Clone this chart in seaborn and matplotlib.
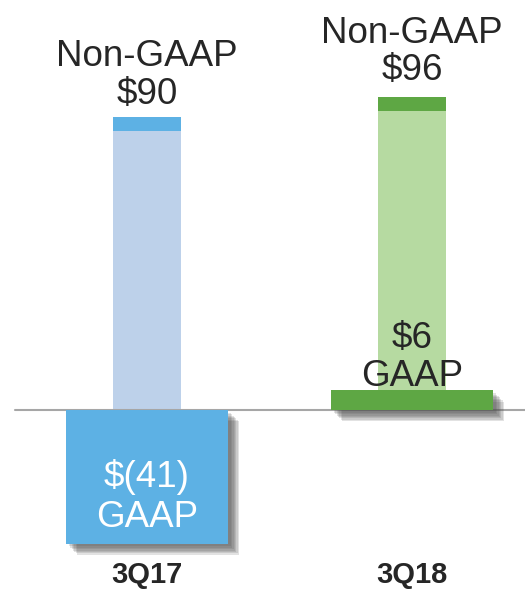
#!/usr/bin/env python3
# plot.py - GAAP vs Non-GAAP by quarter

import matplotlib
matplotlib.use('Agg')
import matplotlib.pyplot as plt
import matplotlib.patheffects as pe
import pandas as pd
import seaborn as sns

# Data =========================================================================

quarters = ['3Q17', '3Q18']
non_gaap = [90, 96]
gaap = [-41, 6]
non_gaap_labels = ['Non-GAAP\n$90', 'Non-GAAP\n$96']
gaap_labels = ['$(41)\nGAAP', '$6\nGAAP']

light_colors = ['#BDD1EA', '#B6DAA1']
dark_colors = ['#5DB1E4', '#5EA744']

# Plot =========================================================================

def main():
    sns.set_style('white')
    plt.rcParams['font.family'] = ['Liberation Sans', 'DejaVu Sans']

    df = pd.DataFrame({'Quarter': quarters, 'NonGAAP': non_gaap, 'GAAP': gaap})

    fig = plt.figure(figsize=(5.25, 5.91), dpi=100)
    ax = fig.add_axes([0, 33 / 591, 1, 558 / 591])

    # non-GAAP (light) bars
    sns.barplot(data=df, x='Quarter', y='NonGAAP', hue='Quarter',
                palette=light_colors, width=0.253, legend=False,
                saturation=1, linewidth=0, ax=ax, zorder=2)
    # dark cap at top of the non-GAAP bars
    cap = 4.3
    ax.bar(range(len(quarters)), [cap] * len(quarters),
           bottom=[v - cap for v in non_gaap], width=0.253,
           color=dark_colors, linewidth=0, zorder=3)

    # GAAP bars with soft drop shadow
    n_before = len(ax.patches)
    sns.barplot(data=df, x='Quarter', y='GAAP', hue='Quarter',
                palette=dark_colors, width=0.611, legend=False,
                saturation=1, linewidth=0, ax=ax, zorder=4)
    shadow = [pe.SimplePatchShadow(offset=(d, -d), shadow_rgbFace='0.3', alpha=0.16)
              for d in (2, 3, 4, 5, 6, 7, 8)]
    for p in ax.patches[n_before:]:
        p.set_path_effects(shadow + [pe.Normal()])

    ax.axhline(0, xmin=15 / 525, xmax=1, color='#A6A6A6', lw=1.5, zorder=3.5)

    # labels
    offsets = [9, 12]
    for i, (v, lab) in enumerate(zip(non_gaap, non_gaap_labels)):
        ax.annotate(lab, (i, v), xytext=(0, offsets[i]), textcoords='offset points',
                    ha='center', va='baseline', fontsize=26.5, color='#262626',
                    linespacing=1.1, zorder=6)
    ax.annotate(gaap_labels[0], (0, gaap[0]), xytext=(0, 12), textcoords='offset points',
                ha='center', va='baseline', fontsize=26.5, color='white',
                linespacing=1.2, zorder=6)
    ax.annotate(gaap_labels[1], (1, gaap[1]), xytext=(0, 3.5), textcoords='offset points',
                ha='center', va='baseline', fontsize=26.5, color='#262626',
                linespacing=1.1, zorder=6)

    ax.set_xlim(-147 / 265, 378 / 265)
    ax.set_ylim(-148 / 3.26, 410 / 3.26)
    ax.set_xlabel('')
    ax.set_ylabel('')
    ax.set_yticks([])
    ax.tick_params(axis='x', length=0, pad=2)
    for t in ax.get_xticklabels():
        t.set_fontfamily(['Liberation Sans Narrow', 'Liberation Sans'])
        t.set_fontweight('bold')
        t.set_fontsize(21)
        t.set_color('#262626')
    sns.despine(ax=ax, left=True, bottom=True)

    fig.savefig('out.png', dpi=100)


if __name__ == '__main__':
    main()
